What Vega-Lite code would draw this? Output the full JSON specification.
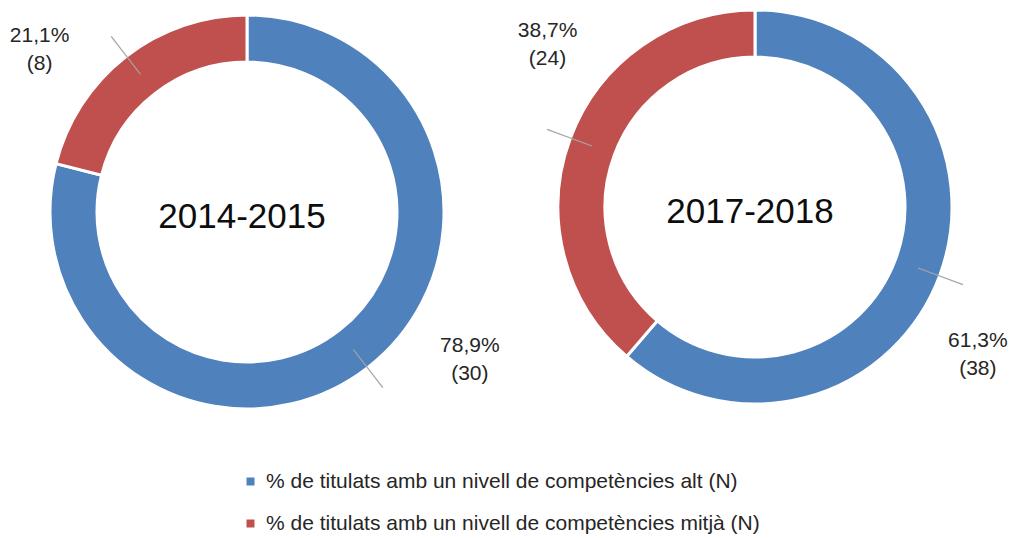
{
  "$schema": "https://vega.github.io/schema/vega-lite/v6.json",
  "width": 1018,
  "height": 538,
  "padding": 0,
  "autosize": {"type": "none"},
  "background": "white",
  "config": {"view": {"stroke": null}, "font": "Liberation Sans"},
  "data": {
    "values": [
      {"year": "2014-2015", "level": "% de titulats amb un nivell de competències alt (N)", "n": 30},
      {"year": "2014-2015", "level": "% de titulats amb un nivell de competències mitjà (N)", "n": 8},
      {"year": "2017-2018", "level": "% de titulats amb un nivell de competències alt (N)", "n": 38},
      {"year": "2017-2018", "level": "% de titulats amb un nivell de competències mitjà (N)", "n": 24}
    ]
  },
  "transform": [
    {"stack": "n", "groupby": ["year"], "sort": [{"field": "level", "order": "ascending"}], "offset": "normalize", "as": ["v0", "v1"]},
    {"calculate": "(datum.v0 + datum.v1) / 2", "as": "mid"},
    {"calculate": "[replace(format(datum.v1 - datum.v0, '.1%'), '.', ','), '(' + datum.n + ')']", "as": "lbl"}
  ],
  "encoding": {
    "x": {"field": "year", "type": "nominal", "scale": {"type": "point", "domain": ["2014-2015", "2017-2018"], "range": [247, 755], "padding": 0}, "axis": null},
    "y": {"field": "year", "type": "nominal", "scale": {"type": "point", "domain": ["2014-2015", "2017-2018"], "range": [212, 207], "padding": 0}, "axis": null}
  },
  "layer": [
    {
      "mark": {"type": "arc", "radius": 197, "radius2": 150, "stroke": "white", "strokeWidth": 3},
      "encoding": {
        "theta": {"field": "v0", "type": "quantitative", "stack": null, "scale": {"domain": [0, 1], "range": [0, 6.283185307179586]}},
        "theta2": {"field": "v1"},
        "color": {
          "field": "level", "type": "nominal",
          "scale": {"domain": ["% de titulats amb un nivell de competències alt (N)", "% de titulats amb un nivell de competències mitjà (N)"], "range": ["#4f81bd", "#c0504d"]},
          "legend": {"orient": "none", "legendX": 240, "legendY": 471, "title": null, "symbolType": "square", "symbolSize": 64, "symbolStrokeWidth": 0, "labelFontSize": 21, "labelColor": "#262626", "labelFont": "Liberation Sans", "rowPadding": 20, "labelOffset": 5, "labelLimit": 0}
        }
      }
    },
    {
      "mark": {"type": "arc", "radius": 222, "radius2": 174, "color": "#a6a6a6", "theta2Offset": 0.006},
      "encoding": {
        "theta": {"field": "mid", "type": "quantitative", "stack": null, "scale": {"domain": [0, 1], "range": [0, 6.283185307179586]}},
        "theta2": {"field": "mid"}
      }
    },
    {
      "mark": {"type": "text", "fontSize": 21, "lineHeight": 28, "color": "#262626", "align": "center", "baseline": "middle"},
      "encoding": {
        "theta": {"field": "level", "type": "nominal", "scale": {"type": "point", "domain": ["% de titulats amb un nivell de competències alt (N)", "% de titulats amb un nivell de competències mitjà (N)"], "range": [2.1118, 5.4157], "padding": 0}},
        "radius": {"field": "level", "type": "nominal", "scale": {"type": "point", "domain": ["% de titulats amb un nivell de competències alt (N)", "% de titulats amb un nivell de competències mitjà (N)"], "range": [260, 272], "padding": 0}},
        "text": {"field": "lbl"}
      }
    },
    {
      "transform": [{"filter": "indexof(datum.level, 'alt') >= 0"}],
      "mark": {"type": "text", "fontSize": 35, "color": "#0d0d0d", "align": "center", "baseline": "middle", "dx": -5, "dy": 5},
      "encoding": {"text": {"field": "year"}}
    }
  ],
  "resolve": {"scale": {"theta": "independent"}}
}
